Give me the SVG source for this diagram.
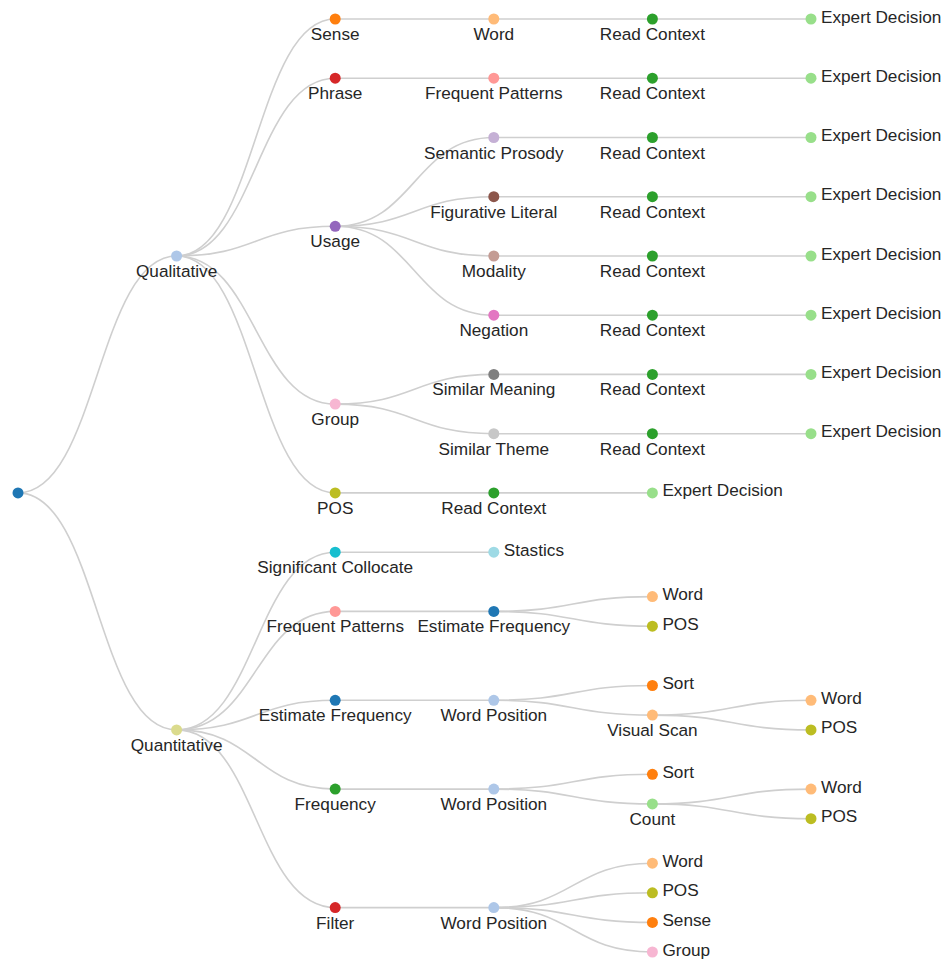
<svg xmlns="http://www.w3.org/2000/svg" width="944" height="960" viewBox="0 0 944 960">
<style>
  .link { fill: none; stroke: #cfcfcf; stroke-width: 1.6; }
  .node circle { stroke: none; }
  .node text { font-family: "Liberation Sans", Arial, sans-serif; font-size: 17.2px; fill: #262626; }
  .inner text { text-anchor: middle; }
  .leaf text { text-anchor: start; }
</style>
<rect width="944" height="960" fill="#ffffff"/>
<g id="links">
  <!-- root -->
  <path class="link" d="M18,492.9C97.3,492.9 97.3,256 176.6,256"/>
  <path class="link" d="M18,492.9C97.3,492.9 97.3,729.9 176.6,729.9"/>
  <!-- Qualitative -->
  <path class="link" d="M176.6,256C255.9,256 255.9,19 335.2,19"/>
  <path class="link" d="M176.6,256C255.9,256 255.9,78.2 335.2,78.2"/>
  <path class="link" d="M176.6,256C255.9,256 255.9,226.3 335.2,226.3"/>
  <path class="link" d="M176.6,256C255.9,256 255.9,404.1 335.2,404.1"/>
  <path class="link" d="M176.6,256C255.9,256 255.9,492.9 335.2,492.9"/>
  <!-- Sense -->
  <path class="link" d="M335.2,19L493.8,19"/>
  <path class="link" d="M493.8,19L652.4,19"/>
  <path class="link" d="M652.4,19L811,19"/>
  <!-- Phrase -->
  <path class="link" d="M335.2,78.2L493.8,78.2"/>
  <path class="link" d="M493.8,78.2L652.4,78.2"/>
  <path class="link" d="M652.4,78.2L811,78.2"/>
  <!-- Usage -->
  <path class="link" d="M335.2,226.3C414.5,226.3 414.5,137.5 493.8,137.5"/>
  <path class="link" d="M335.2,226.3C414.5,226.3 414.5,196.7 493.8,196.7"/>
  <path class="link" d="M335.2,226.3C414.5,226.3 414.5,256 493.8,256"/>
  <path class="link" d="M335.2,226.3C414.5,226.3 414.5,315.2 493.8,315.2"/>
  <path class="link" d="M493.8,137.5L652.4,137.5"/>
  <path class="link" d="M652.4,137.5L811,137.5"/>
  <path class="link" d="M493.8,196.7L652.4,196.7"/>
  <path class="link" d="M652.4,196.7L811,196.7"/>
  <path class="link" d="M493.8,256L652.4,256"/>
  <path class="link" d="M652.4,256L811,256"/>
  <path class="link" d="M493.8,315.2L652.4,315.2"/>
  <path class="link" d="M652.4,315.2L811,315.2"/>
  <!-- Group -->
  <path class="link" d="M335.2,404.1C414.5,404.1 414.5,374.4 493.8,374.4"/>
  <path class="link" d="M335.2,404.1C414.5,404.1 414.5,433.7 493.8,433.7"/>
  <path class="link" d="M493.8,374.4L652.4,374.4"/>
  <path class="link" d="M652.4,374.4L811,374.4"/>
  <path class="link" d="M493.8,433.7L652.4,433.7"/>
  <path class="link" d="M652.4,433.7L811,433.7"/>
  <!-- POS -->
  <path class="link" d="M335.2,492.9L493.8,492.9"/>
  <path class="link" d="M493.8,492.9L652.4,492.9"/>
  <!-- Quantitative -->
  <path class="link" d="M176.6,729.9C255.9,729.9 255.9,552.2 335.2,552.2"/>
  <path class="link" d="M176.6,729.9C255.9,729.9 255.9,611.4 335.2,611.4"/>
  <path class="link" d="M176.6,729.9C255.9,729.9 255.9,700.3 335.2,700.3"/>
  <path class="link" d="M176.6,729.9C255.9,729.9 255.9,789.1 335.2,789.1"/>
  <path class="link" d="M176.6,729.9C255.9,729.9 255.9,907.6 335.2,907.6"/>
  <!-- Significant Collocate -->
  <path class="link" d="M335.2,552.2L493.8,552.2"/>
  <!-- Frequent Patterns -->
  <path class="link" d="M335.2,611.4L493.8,611.4"/>
  <path class="link" d="M493.8,611.4C573.1,611.4 573.1,596.6 652.4,596.6"/>
  <path class="link" d="M493.8,611.4C573.1,611.4 573.1,626.2 652.4,626.2"/>
  <!-- Estimate Frequency -->
  <path class="link" d="M335.2,700.3L493.8,700.3"/>
  <path class="link" d="M493.8,700.3C573.1,700.3 573.1,685.5 652.4,685.5"/>
  <path class="link" d="M493.8,700.3C573.1,700.3 573.1,715.1 652.4,715.1"/>
  <path class="link" d="M652.4,715.1C731.7,715.1 731.7,700.3 811,700.3"/>
  <path class="link" d="M652.4,715.1C731.7,715.1 731.7,729.9 811,729.9"/>
  <!-- Frequency -->
  <path class="link" d="M335.2,789.1L493.8,789.1"/>
  <path class="link" d="M493.8,789.1C573.1,789.1 573.1,774.3 652.4,774.3"/>
  <path class="link" d="M493.8,789.1C573.1,789.1 573.1,803.9 652.4,803.9"/>
  <path class="link" d="M652.4,803.9C731.7,803.9 731.7,789.1 811,789.1"/>
  <path class="link" d="M652.4,803.9C731.7,803.9 731.7,818.7 811,818.7"/>
  <!-- Filter -->
  <path class="link" d="M335.2,907.6L493.8,907.6"/>
  <path class="link" d="M493.8,907.6C573.1,907.6 573.1,863.2 652.4,863.2"/>
  <path class="link" d="M493.8,907.6C573.1,907.6 573.1,892.8 652.4,892.8"/>
  <path class="link" d="M493.8,907.6C573.1,907.6 573.1,922.4 652.4,922.4"/>
  <path class="link" d="M493.8,907.6C573.1,907.6 573.1,952 652.4,952"/>
</g>
<g id="nodes">
  <g id="n-root" class="node inner"><circle cx="18" cy="492.9" r="5.5" fill="#1f77b4"/></g>
  <g id="n-qualitative" class="node inner"><circle cx="176.6" cy="256" r="5.5" fill="#aec7e8"/><text x="176.6" y="277">Qualitative</text></g>

  <g id="n-sense" class="node inner"><circle cx="335.2" cy="19" r="5.5" fill="#ff7f0e"/><text x="335.2" y="40">Sense</text></g>
  <g id="n-sense-word" class="node inner"><circle cx="493.8" cy="19" r="5.5" fill="#ffbb78"/><text x="493.8" y="40">Word</text></g>
  <g id="n-sense-read" class="node inner"><circle cx="652.4" cy="19" r="5.5" fill="#2ca02c"/><text x="652.4" y="40">Read Context</text></g>
  <g id="n-sense-expert" class="node leaf"><circle cx="811" cy="19" r="5.5" fill="#98df8a"/><text x="821" y="22.5">Expert Decision</text></g>

  <g id="n-phrase" class="node inner"><circle cx="335.2" cy="78.2" r="5.5" fill="#d62728"/><text x="335.2" y="99.2">Phrase</text></g>
  <g id="n-phrase-patterns" class="node inner"><circle cx="493.8" cy="78.2" r="5.5" fill="#ff9896"/><text x="493.8" y="99.2">Frequent Patterns</text></g>
  <g id="n-phrase-read" class="node inner"><circle cx="652.4" cy="78.2" r="5.5" fill="#2ca02c"/><text x="652.4" y="99.2">Read Context</text></g>
  <g id="n-phrase-expert" class="node leaf"><circle cx="811" cy="78.2" r="5.5" fill="#98df8a"/><text x="821" y="81.7">Expert Decision</text></g>

  <g id="n-usage" class="node inner"><circle cx="335.2" cy="226.3" r="5.5" fill="#9467bd"/><text x="335.2" y="247.3">Usage</text></g>
  <g id="n-prosody" class="node inner"><circle cx="493.8" cy="137.5" r="5.5" fill="#c5b0d5"/><text x="493.8" y="158.5">Semantic Prosody</text></g>
  <g id="n-prosody-read" class="node inner"><circle cx="652.4" cy="137.5" r="5.5" fill="#2ca02c"/><text x="652.4" y="158.5">Read Context</text></g>
  <g id="n-prosody-expert" class="node leaf"><circle cx="811" cy="137.5" r="5.5" fill="#98df8a"/><text x="821" y="141">Expert Decision</text></g>
  <g id="n-figurative" class="node inner"><circle cx="493.8" cy="196.7" r="5.5" fill="#8c564b"/><text x="493.8" y="217.7">Figurative Literal</text></g>
  <g id="n-figurative-read" class="node inner"><circle cx="652.4" cy="196.7" r="5.5" fill="#2ca02c"/><text x="652.4" y="217.7">Read Context</text></g>
  <g id="n-figurative-expert" class="node leaf"><circle cx="811" cy="196.7" r="5.5" fill="#98df8a"/><text x="821" y="200.2">Expert Decision</text></g>
  <g id="n-modality" class="node inner"><circle cx="493.8" cy="256" r="5.5" fill="#c49c94"/><text x="493.8" y="277">Modality</text></g>
  <g id="n-modality-read" class="node inner"><circle cx="652.4" cy="256" r="5.5" fill="#2ca02c"/><text x="652.4" y="277">Read Context</text></g>
  <g id="n-modality-expert" class="node leaf"><circle cx="811" cy="256" r="5.5" fill="#98df8a"/><text x="821" y="259.5">Expert Decision</text></g>
  <g id="n-negation" class="node inner"><circle cx="493.8" cy="315.2" r="5.5" fill="#e377c2"/><text x="493.8" y="336.2">Negation</text></g>
  <g id="n-negation-read" class="node inner"><circle cx="652.4" cy="315.2" r="5.5" fill="#2ca02c"/><text x="652.4" y="336.2">Read Context</text></g>
  <g id="n-negation-expert" class="node leaf"><circle cx="811" cy="315.2" r="5.5" fill="#98df8a"/><text x="821" y="318.7">Expert Decision</text></g>

  <g id="n-group" class="node inner"><circle cx="335.2" cy="404.1" r="5.5" fill="#f7b6d2"/><text x="335.2" y="425.1">Group</text></g>
  <g id="n-meaning" class="node inner"><circle cx="493.8" cy="374.4" r="5.5" fill="#7f7f7f"/><text x="493.8" y="395.4">Similar Meaning</text></g>
  <g id="n-meaning-read" class="node inner"><circle cx="652.4" cy="374.4" r="5.5" fill="#2ca02c"/><text x="652.4" y="395.4">Read Context</text></g>
  <g id="n-meaning-expert" class="node leaf"><circle cx="811" cy="374.4" r="5.5" fill="#98df8a"/><text x="821" y="377.9">Expert Decision</text></g>
  <g id="n-theme" class="node inner"><circle cx="493.8" cy="433.7" r="5.5" fill="#c7c7c7"/><text x="493.8" y="454.7">Similar Theme</text></g>
  <g id="n-theme-read" class="node inner"><circle cx="652.4" cy="433.7" r="5.5" fill="#2ca02c"/><text x="652.4" y="454.7">Read Context</text></g>
  <g id="n-theme-expert" class="node leaf"><circle cx="811" cy="433.7" r="5.5" fill="#98df8a"/><text x="821" y="437.2">Expert Decision</text></g>

  <g id="n-pos" class="node inner"><circle cx="335.2" cy="492.9" r="5.5" fill="#bcbd22"/><text x="335.2" y="513.9">POS</text></g>
  <g id="n-pos-read" class="node inner"><circle cx="493.8" cy="492.9" r="5.5" fill="#2ca02c"/><text x="493.8" y="513.9">Read Context</text></g>
  <g id="n-pos-expert" class="node leaf"><circle cx="652.4" cy="492.9" r="5.5" fill="#98df8a"/><text x="662.4" y="496.4">Expert Decision</text></g>

  <g id="n-quantitative" class="node inner"><circle cx="176.6" cy="729.9" r="5.5" fill="#dbdb8d"/><text x="176.6" y="750.9">Quantitative</text></g>

  <g id="n-collocate" class="node inner"><circle cx="335.2" cy="552.2" r="5.5" fill="#17becf"/><text x="335.2" y="573.2">Significant Collocate</text></g>
  <g id="n-collocate-stats" class="node leaf"><circle cx="493.8" cy="552.2" r="5.5" fill="#9edae5"/><text x="503.8" y="555.7">Stastics</text></g>

  <g id="n-patterns" class="node inner"><circle cx="335.2" cy="611.4" r="5.5" fill="#ff9896"/><text x="335.2" y="632.4">Frequent Patterns</text></g>
  <g id="n-patterns-estimate" class="node inner"><circle cx="493.8" cy="611.4" r="5.5" fill="#1f77b4"/><text x="493.8" y="632.4">Estimate Frequency</text></g>
  <g id="n-patterns-word" class="node leaf"><circle cx="652.4" cy="596.6" r="5.5" fill="#ffbb78"/><text x="662.4" y="600.1">Word</text></g>
  <g id="n-patterns-pos" class="node leaf"><circle cx="652.4" cy="626.2" r="5.5" fill="#bcbd22"/><text x="662.4" y="629.7">POS</text></g>

  <g id="n-estimate" class="node inner"><circle cx="335.2" cy="700.3" r="5.5" fill="#1f77b4"/><text x="335.2" y="721.3">Estimate Frequency</text></g>
  <g id="n-estimate-position" class="node inner"><circle cx="493.8" cy="700.3" r="5.5" fill="#aec7e8"/><text x="493.8" y="721.3">Word Position</text></g>
  <g id="n-estimate-sort" class="node leaf"><circle cx="652.4" cy="685.5" r="5.5" fill="#ff7f0e"/><text x="662.4" y="689">Sort</text></g>
  <g id="n-estimate-scan" class="node inner"><circle cx="652.4" cy="715.1" r="5.5" fill="#ffbb78"/><text x="652.4" y="736.1">Visual Scan</text></g>
  <g id="n-scan-word" class="node leaf"><circle cx="811" cy="700.3" r="5.5" fill="#ffbb78"/><text x="821" y="703.8">Word</text></g>
  <g id="n-scan-pos" class="node leaf"><circle cx="811" cy="729.9" r="5.5" fill="#bcbd22"/><text x="821" y="733.4">POS</text></g>

  <g id="n-frequency" class="node inner"><circle cx="335.2" cy="789.1" r="5.5" fill="#2ca02c"/><text x="335.2" y="810.1">Frequency</text></g>
  <g id="n-frequency-position" class="node inner"><circle cx="493.8" cy="789.1" r="5.5" fill="#aec7e8"/><text x="493.8" y="810.1">Word Position</text></g>
  <g id="n-frequency-sort" class="node leaf"><circle cx="652.4" cy="774.3" r="5.5" fill="#ff7f0e"/><text x="662.4" y="777.8">Sort</text></g>
  <g id="n-frequency-count" class="node inner"><circle cx="652.4" cy="803.9" r="5.5" fill="#98df8a"/><text x="652.4" y="824.9">Count</text></g>
  <g id="n-count-word" class="node leaf"><circle cx="811" cy="789.1" r="5.5" fill="#ffbb78"/><text x="821" y="792.6">Word</text></g>
  <g id="n-count-pos" class="node leaf"><circle cx="811" cy="818.7" r="5.5" fill="#bcbd22"/><text x="821" y="822.2">POS</text></g>

  <g id="n-filter" class="node inner"><circle cx="335.2" cy="907.6" r="5.5" fill="#d62728"/><text x="335.2" y="928.6">Filter</text></g>
  <g id="n-filter-position" class="node inner"><circle cx="493.8" cy="907.6" r="5.5" fill="#aec7e8"/><text x="493.8" y="928.6">Word Position</text></g>
  <g id="n-filter-word" class="node leaf"><circle cx="652.4" cy="863.2" r="5.5" fill="#ffbb78"/><text x="662.4" y="866.7">Word</text></g>
  <g id="n-filter-pos" class="node leaf"><circle cx="652.4" cy="892.8" r="5.5" fill="#bcbd22"/><text x="662.4" y="896.3">POS</text></g>
  <g id="n-filter-sense" class="node leaf"><circle cx="652.4" cy="922.4" r="5.5" fill="#ff7f0e"/><text x="662.4" y="925.9">Sense</text></g>
  <g id="n-filter-group" class="node leaf"><circle cx="652.4" cy="952" r="5.5" fill="#f7b6d2"/><text x="662.4" y="955.5">Group</text></g>
</g>
</svg>
